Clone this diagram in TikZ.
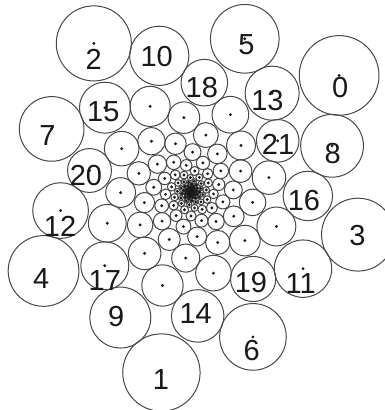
\documentclass[tikz,border=0pt]{standalone}
\usepackage{fontspec}
\setmainfont{Liberation Sans}
\usetikzlibrary{calc}
\tikzset{
  ring/.style={draw=black!72, line width=1pt},
  pip/.style={fill=black!90},
  num/.style={font=\fontsize{29}{29}\selectfont, inner sep=0pt, text=black!90},
}
\begin{document}
\begin{tikzpicture}[x=1pt, y=1pt]
  \useasboundingbox (0,0) rectangle (385,410);
  \coordinate (mid) at (191,218);
  % seeds on the golden-angle spiral, shrinking towards the middle
  \foreach \n in {0,...,165} {
    \pgfmathsetmacro{\ang}{38.2-mod(137.508*mod(\n,100),360)-mod(13750.8*int(\n/100),360)}
    \pgfmathsetmacro{\dist}{188.5*0.9706^\n}
    \pgfmathsetmacro{\rad}{0.2114*\dist}
    \coordinate (c\n) at ($(mid)+(\ang:\dist)$);
    \draw[ring] (c\n) circle (\rad);
    \fill[pip] (c\n) circle (1.6);
  }
  % numbers of the outer seeds
  \foreach \n/\dx/\dy in {0/1/-12.5, 1/-0.5/-7.3, 2/0/-15.5, 3/-0.6/-0.8, 4/-2.3/-7.5,
      5/1.6/-5.8, 6/-1.3/-13.2, 7/-4.2/-7.1, 8/0.6/-7.5, 9/-4.2/0.7, 10/-2.6/-1.2,
      11/-2.4/-14.5, 12/-0.5/-16, 13/-4.7/-7, 14/-2/2.5, 15/-1.7/-3.5, 16/-3.9/-5,
      17/0/-14.5, 18/-2.5/-4.5, 19/-2.2/-3.2, 20/-3.6/-5.2, 21/0.3/-3.7}
    \node[num] (lbl\n) at ($(c\n)+(\dx,\dy)$) {\n};
\end{tikzpicture}
\end{document}
